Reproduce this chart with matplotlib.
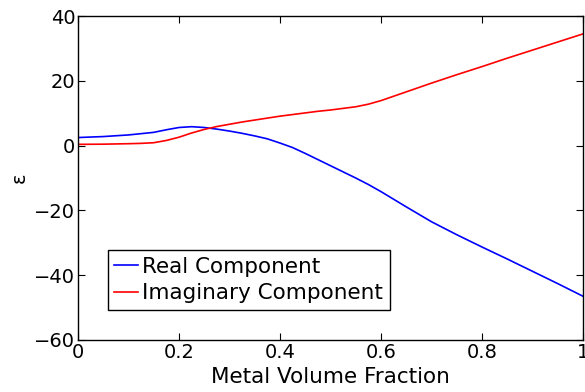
import numpy as np
import matplotlib
matplotlib.use("Agg")
import matplotlib.pyplot as plt

# values
fraction = [0.0, 0.05, 0.10,
            0.125, 0.15, 0.175, 0.20, 0.225, 0.25, 0.275, 0.30, 0.325, 0.35,
            0.375, 0.40, 0.425, 0.45, 0.475, 0.50, 0.525, 0.55, 0.575, 0.60,
            0.65, 0.70, 0.75, 0.80, 0.85, 0.90, 0.95, 1.0]
real_part = [2.5, 2.8, 3.3,
             3.7, 4.1, 4.9, 5.6, 5.85, 5.6, 5.1, 4.5, 3.8, 3.0,
             2.1, 0.8, -0.6, -2.4, -4.3, -6.2, -8.1, -10.0, -12.0, -14.2,
             -18.9, -23.5, -27.5, -31.3, -35.0, -38.8, -42.6, -46.5]
imag_part = [0.4, 0.45, 0.6,
             0.7, 0.9, 1.6, 2.6, 3.9, 5.0, 5.9, 6.6, 7.3, 7.9,
             8.5, 9.1, 9.6, 10.1, 10.6, 11.0, 11.5, 12.0, 12.8, 13.9,
             16.6, 19.3, 21.9, 24.4, 27.0, 29.5, 32.0, 34.5]

plt.rcParams['font.family'] = ['DejaVu Sans']

fig = plt.figure(figsize=(5.85, 3.92), dpi=100)
ax = fig.add_axes([0.1333, 0.1327, 0.8633, 0.8263])

ax.plot(fraction, real_part, color='#0000ff', lw=1.2, label='Real Component')
ax.plot(fraction, imag_part, color='#ff0000', lw=1.2, label='Imaginary Component')

ax.set_xlim(0, 1)
ax.set_ylim(-60, 40)
ax.set_xticks([0, 0.2, 0.4, 0.6, 0.8, 1])
ax.set_xticklabels(['0', '0.2', '0.4', '0.6', '0.8', '1'])
ax.set_yticks([-60, -40, -20, 0, 20, 40])
ax.tick_params(direction='in', top=True, right=True, labelsize=14, length=5, pad=2)
for s in ax.spines.values():
    s.set_linewidth(1.0)

ax.set_xlabel('Metal Volume Fraction', fontsize=15.5, labelpad=4)
ax.set_ylabel('ε', fontsize=14, labelpad=4)

leg = ax.legend(loc='lower left', bbox_to_anchor=(0.059, 0.093), borderaxespad=0,
                fontsize=15.5, fancybox=False, edgecolor='black', framealpha=1,
                handlelength=1.1, handletextpad=0.2, borderpad=0.3, labelspacing=0.3)
leg.get_frame().set_linewidth(1.0)

fig.savefig('out.png', dpi=100)
